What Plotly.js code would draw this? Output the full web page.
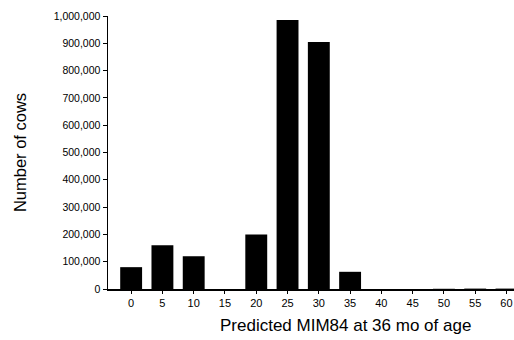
<!DOCTYPE html>
<html>
<head>
<meta charset="utf-8">
<script src="https://cdn.plot.ly/plotly-3.0.1.min.js"></script>
<style>html,body{margin:0;padding:0;background:#fff;}#chart{width:514px;height:340px;}</style>
</head>
<body>
<div id="chart"></div>
<script>
const mim84 = [0, 5, 10, 15, 20, 25, 30, 35, 40, 45, 50, 55, 60];
const cows = [80000, 160000, 120000, 0, 200000, 985000, 905000, 63000, 0, 0, 800, 1500, 1500];
const xTickLabels = ["0","5","10","15","20","25","30","35","40","45","50","55","60"];
const yTickVals = [0,100000,200000,300000,400000,500000,600000,700000,800000,900000,1000000];
const yTickLabels = ["0","100,000","200,000","300,000","400,000","500,000","600,000","700,000","800,000","900,000","1,000,000"];

const font = "Liberation Sans, Arial, Helvetica, sans-serif";
const trace = {
  type: "bar",
  x: mim84,
  y: cows,
  width: 3.5,
  marker: {color: "#000", line: {width: 0}},
  hoverinfo: "x+y"
};
const layout = {
  width: 514, height: 340,
  margin: {l: 108, r: 0, t: 16, b: 51},
  paper_bgcolor: "#fff", plot_bgcolor: "#fff",
  showlegend: false,
  font: {family: font, color: "#000"},
  xaxis: {
    range: [-3.7, 61.2],
    tickmode: "array", tickvals: mim84, ticktext: xTickLabels,
    ticks: "outside", ticklen: 3, tickwidth: 1, tickcolor: "#000",
    showline: true, linecolor: "#000", linewidth: 1.5,
    showgrid: false, zeroline: false,
    tickfont: {size: 11, family: font, color: "#000"}
  },
  yaxis: {
    range: [0, 1000000],
    tickmode: "array", tickvals: yTickVals, ticktext: yTickLabels,
    ticks: "outside", ticklen: 4, tickwidth: 1, tickcolor: "#000",
    showline: true, linecolor: "#000", linewidth: 1.5,
    showgrid: false, zeroline: false,
    tickfont: {size: 10.5, family: font, color: "#000"},
    title: {text: "Number of cows", font: {size: 16.5, family: font, color: "#000"}, standoff: 23}
  },
  annotations: [{
    text: "Predicted MIM84 at 36 mo of age",
    xref: "paper", yref: "paper",
    x: 0.586, y: -0.132, xanchor: "center", yanchor: "middle",
    showarrow: false,
    font: {size: 17, family: font, color: "#000"}
  }]
};
Plotly.newPlot("chart", [trace], layout, {displayModeBar: false, staticPlot: true});
</script>
</body>
</html>
